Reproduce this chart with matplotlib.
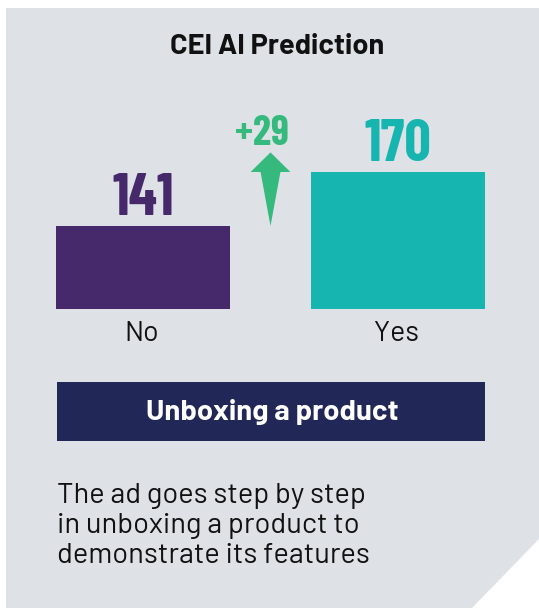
import matplotlib
matplotlib.use('Agg')
import matplotlib.pyplot as plt
from matplotlib.patches import Polygon, Rectangle

# data
title = 'CEI AI Prediction'
categories = ['No', 'Yes']
values = [141, 170]
bar_colors = ['#45296a', '#16b5b0']
diff_label = '+29'
topic = 'Unboxing a product'
description = ['The ad goes step by step',
               'in unboxing a product to',
               'demonstrate its features']

W, H = 539, 608
fig = plt.figure(figsize=(W / 100, H / 100), dpi=100)
fig.patch.set_facecolor('white')

body_font = ['Barlow', 'Roboto', 'DejaVu Sans']
num_font = ['Barlow Condensed', 'Roboto', 'DejaVu Sans']


def fx(px):
    return px / W


def fy(py):
    return 1 - py / H


# gray panel with the cut corner
panel = Polygon([(fx(6), fy(8)), (fx(539), fy(8)), (fx(539), fy(539)),
                 (fx(472), fy(608)), (fx(6), fy(608))],
                closed=True, transform=fig.transFigure,
                facecolor='#dee2e6', edgecolor='none', zorder=-5)
fig.patches.append(panel)

fig.text(fx(277), fy(46), title, ha='center', va='center',
         fontsize=20.8, fontweight='bold', family=body_font, color='#111111')

# bar axes: x from 56 to 485 px, bottom at 308.7 px
ax = fig.add_axes([fx(56), fy(308.7), fx(485) - fx(56), fy(120) - fy(308.7)])
ax.set_zorder(2)
ax.set_facecolor('none')
x = list(range(len(categories)))
width = 0.682
ax.bar(x, values, width=width, color=bar_colors)
ax.set_xlim(-width / 2, len(categories) - 1 + width / 2)
ax.set_ylim(96.6, 197.9)
ax.axis('off')

for i, v in enumerate(values):
    ax.annotate(str(v), (x[i], v), xytext=(0, 8), textcoords='offset points',
                ha='center', va='baseline', fontsize=42, fontweight='bold',
                family=num_font, color=bar_colors[i], annotation_clip=False)
    ax.annotate(categories[i], (x[i], 96.6), xytext=(-1, -23.5), textcoords='offset points',
                ha='center', va='baseline', fontsize=20.5, family=body_font,
                color='#111111', annotation_clip=False)

# arrow between the two bar heights
ax_mid = (x[0] + x[1]) / 2
lo, hi = values[0], values[1]
head_top = hi + 10.5
arrow = Polygon([(ax_mid, lo), (ax_mid - 0.039, hi), (ax_mid - 0.078, hi),
                 (ax_mid, head_top), (ax_mid + 0.078, hi), (ax_mid + 0.039, hi)],
                closed=True, facecolor='#35b97d', edgecolor='none')
ax.add_patch(arrow)
ax.annotate(diff_label, (ax_mid, head_top), xytext=(-6, 5.5), textcoords='offset points',
            ha='center', va='baseline', fontsize=29.5, fontweight='bold',
            family=num_font, color='#35b97d', annotation_clip=False)

# topic box
fig.patches.append(Rectangle((fx(57), fy(441)), fx(485) - fx(57), fy(382) - fy(441),
                             transform=fig.transFigure, facecolor='#212857',
                             edgecolor='none', zorder=1))
fig.text(fx(272), fy(412), topic, ha='center', va='center', fontsize=21,
         fontweight='bold', family=body_font, color='white', zorder=2)

for i, line in enumerate(description):
    fig.text(fx(57), fy(503 + 30 * i), line, ha='left', va='baseline',
             fontsize=20.9, family=body_font, color='#111111')

fig.savefig('out.png', dpi=100)
